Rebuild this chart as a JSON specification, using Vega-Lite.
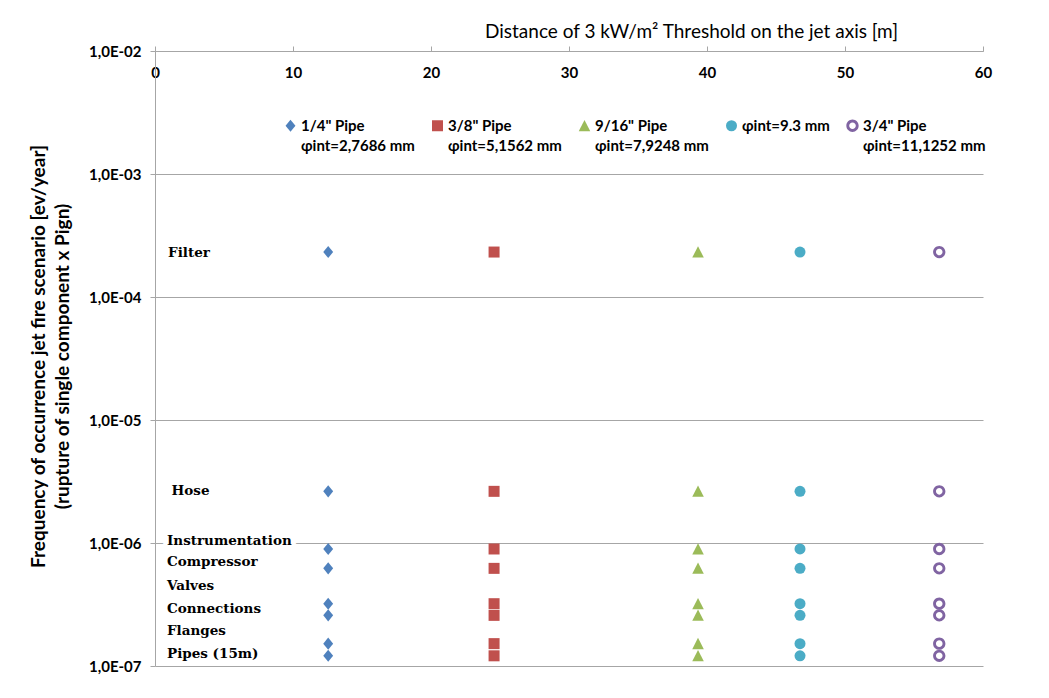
{
  "$schema": "https://vega.github.io/schema/vega-lite/v6.json",
  "width": 828,
  "height": 615,
  "autosize": {"type": "none"},
  "padding": {"left": 155, "top": 51, "right": 66, "bottom": 32},
  "background": "white",
  "config": {"view": {"stroke": null}, "font": "Lato", "style": {"guide-label": {"lineHeight": 20}}},
  "datasets": {
    "pts": [
      {"series": "1/4\" Pipe|ɸint=2,7686 mm", "x": 12.55, "y": 2.32e-4},
      {"series": "1/4\" Pipe|ɸint=2,7686 mm", "x": 12.55, "y": 2.63e-6},
      {"series": "1/4\" Pipe|ɸint=2,7686 mm", "x": 12.55, "y": 8.94e-7},
      {"series": "1/4\" Pipe|ɸint=2,7686 mm", "x": 12.55, "y": 6.22e-7},
      {"series": "1/4\" Pipe|ɸint=2,7686 mm", "x": 12.55, "y": 3.21e-7},
      {"series": "1/4\" Pipe|ɸint=2,7686 mm", "x": 12.55, "y": 2.58e-7},
      {"series": "1/4\" Pipe|ɸint=2,7686 mm", "x": 12.55, "y": 1.52e-7},
      {"series": "1/4\" Pipe|ɸint=2,7686 mm", "x": 12.55, "y": 1.21e-7},
      {"series": "3/8\" Pipe|ɸint=5,1562 mm", "x": 24.57, "y": 2.32e-4},
      {"series": "3/8\" Pipe|ɸint=5,1562 mm", "x": 24.57, "y": 2.63e-6},
      {"series": "3/8\" Pipe|ɸint=5,1562 mm", "x": 24.57, "y": 8.94e-7},
      {"series": "3/8\" Pipe|ɸint=5,1562 mm", "x": 24.57, "y": 6.22e-7},
      {"series": "3/8\" Pipe|ɸint=5,1562 mm", "x": 24.57, "y": 3.21e-7},
      {"series": "3/8\" Pipe|ɸint=5,1562 mm", "x": 24.57, "y": 2.58e-7},
      {"series": "3/8\" Pipe|ɸint=5,1562 mm", "x": 24.57, "y": 1.52e-7},
      {"series": "3/8\" Pipe|ɸint=5,1562 mm", "x": 24.57, "y": 1.21e-7},
      {"series": "9/16\" Pipe|ɸint=7,9248 mm", "x": 39.35, "y": 2.32e-4},
      {"series": "9/16\" Pipe|ɸint=7,9248 mm", "x": 39.35, "y": 2.63e-6},
      {"series": "9/16\" Pipe|ɸint=7,9248 mm", "x": 39.35, "y": 8.94e-7},
      {"series": "9/16\" Pipe|ɸint=7,9248 mm", "x": 39.35, "y": 6.22e-7},
      {"series": "9/16\" Pipe|ɸint=7,9248 mm", "x": 39.35, "y": 3.21e-7},
      {"series": "9/16\" Pipe|ɸint=7,9248 mm", "x": 39.35, "y": 2.58e-7},
      {"series": "9/16\" Pipe|ɸint=7,9248 mm", "x": 39.35, "y": 1.52e-7},
      {"series": "9/16\" Pipe|ɸint=7,9248 mm", "x": 39.35, "y": 1.21e-7},
      {"series": "ɸint=9.3 mm", "x": 46.74, "y": 2.32e-4},
      {"series": "ɸint=9.3 mm", "x": 46.74, "y": 2.63e-6},
      {"series": "ɸint=9.3 mm", "x": 46.74, "y": 8.94e-7},
      {"series": "ɸint=9.3 mm", "x": 46.74, "y": 6.22e-7},
      {"series": "ɸint=9.3 mm", "x": 46.74, "y": 3.21e-7},
      {"series": "ɸint=9.3 mm", "x": 46.74, "y": 2.58e-7},
      {"series": "ɸint=9.3 mm", "x": 46.74, "y": 1.52e-7},
      {"series": "ɸint=9.3 mm", "x": 46.74, "y": 1.21e-7},
      {"series": "3/4\" Pipe|ɸint=11,1252 mm", "x": 56.83, "y": 2.32e-4},
      {"series": "3/4\" Pipe|ɸint=11,1252 mm", "x": 56.83, "y": 2.63e-6},
      {"series": "3/4\" Pipe|ɸint=11,1252 mm", "x": 56.83, "y": 8.94e-7},
      {"series": "3/4\" Pipe|ɸint=11,1252 mm", "x": 56.83, "y": 6.22e-7},
      {"series": "3/4\" Pipe|ɸint=11,1252 mm", "x": 56.83, "y": 3.21e-7},
      {"series": "3/4\" Pipe|ɸint=11,1252 mm", "x": 56.83, "y": 2.58e-7},
      {"series": "3/4\" Pipe|ɸint=11,1252 mm", "x": 56.83, "y": 1.52e-7},
      {"series": "3/4\" Pipe|ɸint=11,1252 mm", "x": 56.83, "y": 1.21e-7}
    ],
    "labels": [
      {"name": "Filter", "x": 0.95, "y": 2.3e-4},
      {"name": "Hose", "x": 1.2, "y": 2.63e-6},
      {"name": "Instrumentation", "x": 0.87, "y": 1.04e-6},
      {"name": "Compressor", "x": 0.87, "y": 7.0e-7},
      {"name": "Valves", "x": 0.87, "y": 4.5e-7},
      {"name": "Connections", "x": 0.87, "y": 2.9e-7},
      {"name": "Flanges", "x": 0.87, "y": 1.94e-7},
      {"name": "Pipes (15m)", "x": 0.87, "y": 1.25e-7}
    ]
  },
  "layer": [
    {
      "data": {"name": "pts"},
      "mark": {"type": "point", "filled": true, "opacity": 1, "size": 121, "strokeWidth": 0},
      "encoding": {
        "x": {
          "field": "x", "type": "quantitative",
          "scale": {"domain": [0, 60], "nice": false, "zero": false},
          "axis": {
            "orient": "top",
            "values": [0, 10, 20, 30, 40, 50, 60],
            "grid": false,
            "domainColor": "#a6a6a6",
            "tickColor": "#a6a6a6",
            "tickSize": 5,
            "labelBaseline": "middle",
            "labelPadding": -26,
            "labelFont": "Lato",
            "labelFontSize": 15,
            "labelFontWeight": "bold",
            "labelColor": "#000000",
            "labelFlush": false,
            "title": "Distance of 3 kW/m² Threshold on the jet axis [m]",
            "titleFont": "Lato",
            "titleFontSize": 19,
            "titleFontWeight": "normal",
            "titleColor": "#000000",
            "titleX": 536,
            "titleY": -20,
            "titleAlign": "center",
            "titleBaseline": "middle"
          }
        },
        "y": {
          "field": "y", "type": "quantitative",
          "scale": {"type": "log", "domain": [1e-7, 1e-2], "nice": false},
          "axis": {
            "values": [1e-7, 1e-6, 1e-5, 1e-4, 1e-3, 1e-2],
            "labelExpr": "'1,0E-0' + format(-log(datum.value)/LN10, '.0f')",
            "grid": true,
            "gridColor": "#a6a6a6",
            "gridWidth": 1,
            "domainColor": "#a6a6a6",
            "tickColor": "#a6a6a6",
            "tickSize": 5,
            "labelPadding": 9,
            "labelFont": "Lato",
            "labelFontSize": 15,
            "labelFontWeight": "bold",
            "labelColor": "#000000",
            "labelFlush": false,
            "title": ["Frequency of occurrence jet fire scenario [ev/year]", "(rupture of single component x Pign)"],
            "titleFont": "Lato",
            "titleFontSize": 19,
            "titleFontWeight": "bold",
            "titleColor": "#000000",
            "titleLineHeight": 24,
            "titleAngle": -90,
            "titleX": -117,
            "titleY": 305,
            "titleAlign": "center",
            "titleBaseline": "middle"
          }
        },
        "color": {
          "field": "series", "type": "nominal",
          "scale": {
            "domain": ["1/4\" Pipe|ɸint=2,7686 mm", "3/8\" Pipe|ɸint=5,1562 mm", "9/16\" Pipe|ɸint=7,9248 mm", "ɸint=9.3 mm", "3/4\" Pipe|ɸint=11,1252 mm"],
            "range": ["#4F81BD", "#C0504D", "#9BBB59", "#4BACC6", "#8064A2"]
          },
          "legend": {
            "orient": "none", "legendX": 128, "legendY": 67,
            "direction": "horizontal", "columns": 5, "title": null,
            "labelExpr": "indexof(datum.label, '|') >= 0 ? split(datum.label, '|') : [datum.label, ' ']",
            "labelFont": "Lato", "labelFontSize": 15, "labelFontWeight": "bold", "labelColor": "#000000",
            "labelBaseline": "middle", "labelLimit": 300,
            "symbolSize": 121, "symbolStrokeWidth": 0, "symbolOpacity": 1,
            "columnPadding": 15, "labelOffset": 3, "padding": 0
          }
        },
        "shape": {
          "field": "series", "type": "nominal",
          "scale": {
            "domain": ["1/4\" Pipe|ɸint=2,7686 mm", "3/8\" Pipe|ɸint=5,1562 mm", "9/16\" Pipe|ɸint=7,9248 mm", "ɸint=9.3 mm", "3/4\" Pipe|ɸint=11,1252 mm"],
            "range": [
              "M0,-1.1L0.9,0L0,1.1L-0.9,0Z",
              "square",
              "M0,-1.05L1.05,1L-1.05,1Z",
              "circle",
              "M1.12,0A1.12,1.12,0,1,1,-1.12,0A1.12,1.12,0,1,1,1.12,0ZM0.6,0A0.6,0.6,0,1,0,-0.6,0A0.6,0.6,0,1,0,0.6,0Z"
            ]
          },
          "legend": {
            "orient": "none", "legendX": 128, "legendY": 67,
            "direction": "horizontal", "columns": 5, "title": null,
            "labelExpr": "indexof(datum.label, '|') >= 0 ? split(datum.label, '|') : [datum.label, ' ']",
            "labelFont": "Lato", "labelFontSize": 15, "labelFontWeight": "bold", "labelColor": "#000000",
            "labelBaseline": "middle", "labelLimit": 300,
            "symbolSize": 121, "symbolStrokeWidth": 0, "symbolOpacity": 1,
            "columnPadding": 15, "labelOffset": 3, "padding": 0
          }
        }
      }
    },
    {
      "data": {"name": "labels"},
      "mark": {"type": "text", "align": "left", "baseline": "middle", "font": "DejaVu Serif", "fontSize": 13.5, "fontWeight": "bold", "color": "#ffffff", "stroke": "#ffffff", "strokeWidth": 9, "strokeJoin": "round"},
      "encoding": {
        "x": {"field": "x", "type": "quantitative"},
        "y": {"field": "y", "type": "quantitative"},
        "text": {"field": "name", "type": "nominal"}
      }
    },
    {
      "data": {"name": "labels"},
      "mark": {"type": "text", "align": "left", "baseline": "middle", "font": "DejaVu Serif", "fontSize": 13.5, "fontWeight": "bold", "color": "#000000"},
      "encoding": {
        "x": {"field": "x", "type": "quantitative"},
        "y": {"field": "y", "type": "quantitative"},
        "text": {"field": "name", "type": "nominal"}
      }
    }
  ]
}
